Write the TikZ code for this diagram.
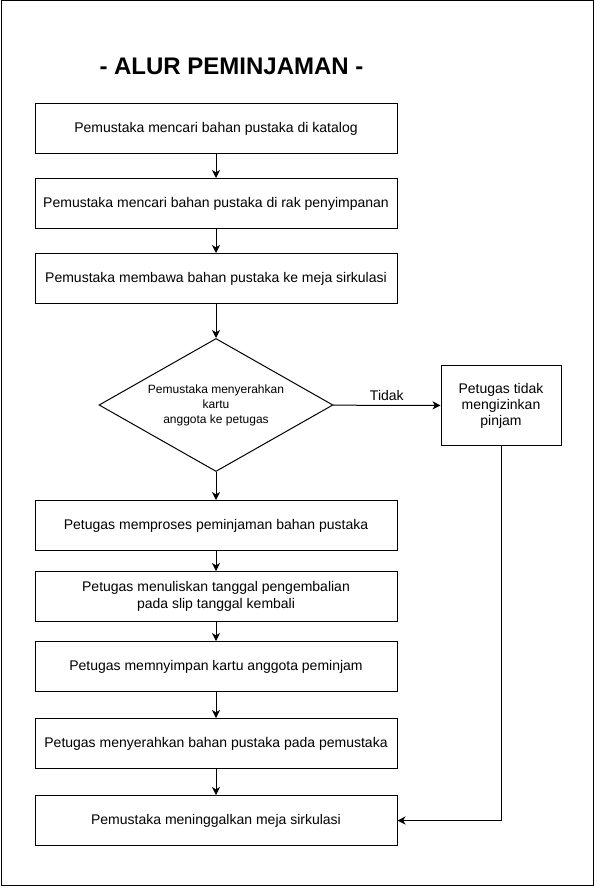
\documentclass[tikz,border=0pt]{standalone}
\usepackage{fontspec}
\setmainfont{Liberation Sans}
\usepackage{tikz}
\usetikzlibrary{shapes.geometric, arrows.meta}
\tikzset{
    langkah/.style={rectangle, draw, line width=0.75pt, minimum width=271.5pt, minimum height=37.5pt, inner sep=0pt, align=center, font=\fontsize{10.5}{12.5}\selectfont},
    keputusan/.style={diamond, draw, line width=0.75pt, aspect=1.76, minimum width=175.5pt, minimum height=99.75pt, inner sep=0pt, align=center, font=\fontsize{9}{11.25}\selectfont},
    tolakbox/.style={rectangle, draw, line width=0.75pt, minimum width=90pt, minimum height=60pt, inner sep=0pt, align=center, font=\fontsize{10.5}{12}\selectfont},
    panah/.style={-{Stealth[length=6pt, width=6pt, inset=1.8pt]}, line width=0.75pt}
}

\begin{document}
\begin{tikzpicture}[x=0.75pt, y=-0.75pt]
    \useasboundingbox (0,0) rectangle (595,888);
    \draw[line width=0.75pt] (1,1) rectangle (593.5,885.5);
    \node (judul)     at (231.5,75) [anchor=base, font=\fontsize{18}{21}\selectfont\bfseries] {- ALUR PEMINJAMAN -};
    \node (katalog)   at (216,128.5)  [langkah] {Pemustaka mencari bahan pustaka di katalog};
    \node (rak)       at (216,203.5)  [langkah] {Pemustaka mencari bahan pustaka di rak penyimpanan};
    \node (sirkulasi) at (216,278.5)  [langkah] {Pemustaka membawa bahan pustaka ke meja sirkulasi};
    \node (kartu)     at (216,405)  [keputusan] {Pemustaka menyerahkan\\kartu\\anggota ke petugas};
    \node (tolak)     at (501,405.5)  [tolakbox] {Petugas tidak\\mengizinkan\\pinjam};
    \node (proses)    at (216,525.5)  [langkah] {Petugas memproses peminjaman bahan pustaka};
    \node (slip)      at (216,596.5)  [langkah] {Petugas menuliskan tanggal pengembalian\\pada slip tanggal kembali};
    \node (simpan)    at (216,666.5)  [langkah] {Petugas memnyimpan kartu anggota peminjam};
    \node (serah)     at (216,743.5)  [langkah] {Petugas menyerahkan bahan pustaka pada pemustaka};
    \node (pulang)    at (216,820.5)  [langkah] {Pemustaka meninggalkan meja sirkulasi};
    \draw[panah] (katalog) -- (rak);
    \draw[panah] (rak) -- (sirkulasi);
    \draw[panah] (sirkulasi) -- (kartu);
    \draw[panah] (kartu) --node[above, inner sep=3pt, font=\fontsize{10.5}{12}\selectfont]{Tidak} (tolak);
    \draw[panah] (kartu) -- (proses);
    \draw[panah] (proses) -- (slip);
    \draw[panah] (slip) -- (simpan);
    \draw[panah] (simpan) -- (serah);
    \draw[panah] (serah) -- (pulang);
    \draw[panah] (tolak.south) |- (pulang.east);
\end{tikzpicture}
\end{document}
